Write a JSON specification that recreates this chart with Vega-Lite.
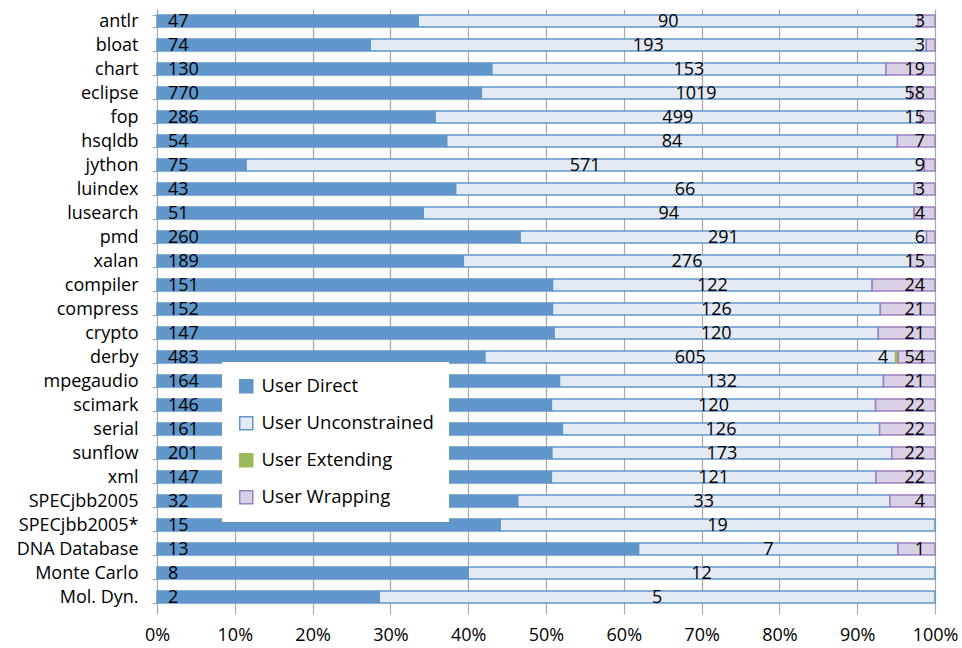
{
  "$schema": "https://vega.github.io/schema/vega-lite/v6.json",
  "width": 778,
  "height": 600,
  "autosize": "none",
  "padding": {"left": 157, "top": 9, "right": 27, "bottom": 39},
  "background": "white",
  "config": {
    "view": {"stroke": null},
    "font": "Open Sans",
    "axis": {"labelFont": "Open Sans", "labelColor": "#000000"},
    "legend": {"labelFont": "Open Sans"}
  },
  "datasets": {
    "vals": [
      {"bench": "antlr", "cat": "User Direct", "ord": 1, "value": 47},
      {"bench": "antlr", "cat": "User Unconstrained", "ord": 2, "value": 90},
      {"bench": "antlr", "cat": "User Wrapping", "ord": 4, "value": 3},
      {"bench": "bloat", "cat": "User Direct", "ord": 1, "value": 74},
      {"bench": "bloat", "cat": "User Unconstrained", "ord": 2, "value": 193},
      {"bench": "bloat", "cat": "User Wrapping", "ord": 4, "value": 3},
      {"bench": "chart", "cat": "User Direct", "ord": 1, "value": 130},
      {"bench": "chart", "cat": "User Unconstrained", "ord": 2, "value": 153},
      {"bench": "chart", "cat": "User Wrapping", "ord": 4, "value": 19},
      {"bench": "eclipse", "cat": "User Direct", "ord": 1, "value": 770},
      {"bench": "eclipse", "cat": "User Unconstrained", "ord": 2, "value": 1019},
      {"bench": "eclipse", "cat": "User Wrapping", "ord": 4, "value": 58},
      {"bench": "fop", "cat": "User Direct", "ord": 1, "value": 286},
      {"bench": "fop", "cat": "User Unconstrained", "ord": 2, "value": 499},
      {"bench": "fop", "cat": "User Wrapping", "ord": 4, "value": 15},
      {"bench": "hsqldb", "cat": "User Direct", "ord": 1, "value": 54},
      {"bench": "hsqldb", "cat": "User Unconstrained", "ord": 2, "value": 84},
      {"bench": "hsqldb", "cat": "User Wrapping", "ord": 4, "value": 7},
      {"bench": "jython", "cat": "User Direct", "ord": 1, "value": 75},
      {"bench": "jython", "cat": "User Unconstrained", "ord": 2, "value": 571},
      {"bench": "jython", "cat": "User Wrapping", "ord": 4, "value": 9},
      {"bench": "luindex", "cat": "User Direct", "ord": 1, "value": 43},
      {"bench": "luindex", "cat": "User Unconstrained", "ord": 2, "value": 66},
      {"bench": "luindex", "cat": "User Wrapping", "ord": 4, "value": 3},
      {"bench": "lusearch", "cat": "User Direct", "ord": 1, "value": 51},
      {"bench": "lusearch", "cat": "User Unconstrained", "ord": 2, "value": 94},
      {"bench": "lusearch", "cat": "User Wrapping", "ord": 4, "value": 4},
      {"bench": "pmd", "cat": "User Direct", "ord": 1, "value": 260},
      {"bench": "pmd", "cat": "User Unconstrained", "ord": 2, "value": 291},
      {"bench": "pmd", "cat": "User Wrapping", "ord": 4, "value": 6},
      {"bench": "xalan", "cat": "User Direct", "ord": 1, "value": 189},
      {"bench": "xalan", "cat": "User Unconstrained", "ord": 2, "value": 276},
      {"bench": "xalan", "cat": "User Wrapping", "ord": 4, "value": 15},
      {"bench": "compiler", "cat": "User Direct", "ord": 1, "value": 151},
      {"bench": "compiler", "cat": "User Unconstrained", "ord": 2, "value": 122},
      {"bench": "compiler", "cat": "User Wrapping", "ord": 4, "value": 24},
      {"bench": "compress", "cat": "User Direct", "ord": 1, "value": 152},
      {"bench": "compress", "cat": "User Unconstrained", "ord": 2, "value": 126},
      {"bench": "compress", "cat": "User Wrapping", "ord": 4, "value": 21},
      {"bench": "crypto", "cat": "User Direct", "ord": 1, "value": 147},
      {"bench": "crypto", "cat": "User Unconstrained", "ord": 2, "value": 120},
      {"bench": "crypto", "cat": "User Wrapping", "ord": 4, "value": 21},
      {"bench": "derby", "cat": "User Direct", "ord": 1, "value": 483},
      {"bench": "derby", "cat": "User Unconstrained", "ord": 2, "value": 605},
      {"bench": "derby", "cat": "User Extending", "ord": 3, "value": 4},
      {"bench": "derby", "cat": "User Wrapping", "ord": 4, "value": 54},
      {"bench": "mpegaudio", "cat": "User Direct", "ord": 1, "value": 164},
      {"bench": "mpegaudio", "cat": "User Unconstrained", "ord": 2, "value": 132},
      {"bench": "mpegaudio", "cat": "User Wrapping", "ord": 4, "value": 21},
      {"bench": "scimark", "cat": "User Direct", "ord": 1, "value": 146},
      {"bench": "scimark", "cat": "User Unconstrained", "ord": 2, "value": 120},
      {"bench": "scimark", "cat": "User Wrapping", "ord": 4, "value": 22},
      {"bench": "serial", "cat": "User Direct", "ord": 1, "value": 161},
      {"bench": "serial", "cat": "User Unconstrained", "ord": 2, "value": 126},
      {"bench": "serial", "cat": "User Wrapping", "ord": 4, "value": 22},
      {"bench": "sunflow", "cat": "User Direct", "ord": 1, "value": 201},
      {"bench": "sunflow", "cat": "User Unconstrained", "ord": 2, "value": 173},
      {"bench": "sunflow", "cat": "User Wrapping", "ord": 4, "value": 22},
      {"bench": "xml", "cat": "User Direct", "ord": 1, "value": 147},
      {"bench": "xml", "cat": "User Unconstrained", "ord": 2, "value": 121},
      {"bench": "xml", "cat": "User Wrapping", "ord": 4, "value": 22},
      {"bench": "SPECjbb2005", "cat": "User Direct", "ord": 1, "value": 32},
      {"bench": "SPECjbb2005", "cat": "User Unconstrained", "ord": 2, "value": 33},
      {"bench": "SPECjbb2005", "cat": "User Wrapping", "ord": 4, "value": 4},
      {"bench": "SPECjbb2005*", "cat": "User Direct", "ord": 1, "value": 15},
      {"bench": "SPECjbb2005*", "cat": "User Unconstrained", "ord": 2, "value": 19},
      {"bench": "DNA Database", "cat": "User Direct", "ord": 1, "value": 13},
      {"bench": "DNA Database", "cat": "User Unconstrained", "ord": 2, "value": 7},
      {"bench": "DNA Database", "cat": "User Wrapping", "ord": 4, "value": 1},
      {"bench": "Monte Carlo", "cat": "User Direct", "ord": 1, "value": 8},
      {"bench": "Monte Carlo", "cat": "User Unconstrained", "ord": 2, "value": 12},
      {"bench": "Mol. Dyn.", "cat": "User Direct", "ord": 1, "value": 2},
      {"bench": "Mol. Dyn.", "cat": "User Unconstrained", "ord": 2, "value": 5}
    ]
  },
  "data": {"name": "vals"},
  "encoding": {
    "y": {
      "field": "bench",
      "type": "nominal",
      "sort": null,
      "title": null,
      "scale": {"paddingInner": 0.5, "paddingOuter": 0.25},
      "axis": {
        "tickBand": "extent",
        "tickSize": 5,
        "tickColor": "#A6A6A6",
        "domainColor": "#A6A6A6",
        "labelPadding": 14,
        "labelFontSize": 18
      }
    },
    "order": {"field": "ord", "type": "quantitative"}
  },
  "layer": [
    {
      "mark": {"type": "bar", "strokeWidth": 1.5},
      "encoding": {
        "x": {
          "field": "value",
          "type": "quantitative",
          "stack": "normalize",
          "title": null,
          "scale": {"domain": [0, 1], "nice": false},
          "axis": {
            "format": ".0%",
            "values": [0, 0.1, 0.2, 0.3, 0.4, 0.5, 0.6, 0.7, 0.8, 0.9, 1],
            "labelOverlap": false,
            "grid": true,
            "gridColor": "#A6A6A6",
            "gridWidth": 1.2,
            "tickColor": "#A6A6A6",
            "tickSize": 5,
            "domain": false,
            "labelPadding": 12,
            "labelFontSize": 18,
            "labelFlush": false
          }
        },
        "fill": {
          "field": "cat",
          "type": "nominal",
          "title": null,
          "scale": {
            "domain": ["User Direct", "User Unconstrained", "User Extending", "User Wrapping"],
            "range": ["#6096CA", "#E3EAF4", "#9BBB59", "#D9D0E5"]
          },
          "legend": {
            "orient": "none",
            "legendX": 65,
            "legendY": 353,
            "fillColor": "white",
            "padding": 15,
            "symbolType": "square",
            "symbolSize": 170,
            "symbolStrokeWidth": 1.5,
            "labelFontSize": 18.5,
            "labelColor": "#000000",
            "rowPadding": 17,
            "labelOffset": 6,
            "labelLimit": 300
          }
        },
        "stroke": {
          "field": "cat",
          "type": "nominal",
          "title": null,
          "scale": {
            "domain": ["User Direct", "User Unconstrained", "User Extending", "User Wrapping"],
            "range": ["#6096CA", "#6096CA", "#9BBB59", "#9C7FC0"]
          }
        }
      }
    },
    {
      "mark": {"type": "text", "align": "left", "baseline": "middle", "dx": 11, "dy": 1, "fontSize": 18, "color": "#000000"},
      "encoding": {
        "x": {"field": "value", "type": "quantitative", "stack": "normalize", "bandPosition": 0},
        "text": {"condition": {"test": "datum.cat === 'User Direct'", "field": "value", "type": "quantitative"}, "value": ""}
      }
    },
    {
      "mark": {"type": "text", "align": "center", "baseline": "middle", "dy": 1, "fontSize": 18, "color": "#000000"},
      "encoding": {
        "x": {"field": "value", "type": "quantitative", "stack": "normalize", "bandPosition": 0.5},
        "text": {"condition": {"test": "datum.cat === 'User Unconstrained'", "field": "value", "type": "quantitative"}, "value": ""}
      }
    },
    {
      "mark": {"type": "text", "align": "right", "baseline": "middle", "dx": -10, "dy": 1, "fontSize": 18, "color": "#000000"},
      "encoding": {
        "x": {"field": "value", "type": "quantitative", "stack": "normalize"},
        "text": {"condition": {"test": "datum.cat === 'User Extending' || datum.cat === 'User Wrapping'", "field": "value", "type": "quantitative"}, "value": ""}
      }
    }
  ]
}
